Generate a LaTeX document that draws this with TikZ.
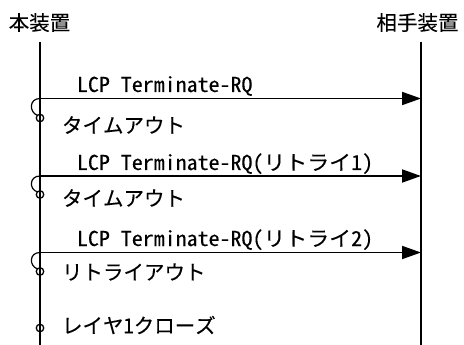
\documentclass[tikz,border=0pt]{standalone}
\usepackage{fontspec}
\setmainfont[FakeBold=0.15]{Noto Sans Mono CJK JP}
\newfontfamily\latfont[FakeStretch=1.07,FakeBold=0.1]{Noto Sans Mono CJK JP}
\usetikzlibrary{arrows.meta}
\begin{document}
\begin{tikzpicture}[x=1pt,y=-1pt,
  every node/.style={inner sep=0pt,outer sep=0pt,font=\fontsize{20.5}{24}\selectfont},
  lifeline/.style={line width=1.8pt},
  msg/.style={line width=1.8pt,-{Triangle[length=19pt,width=13pt]}},
  timer/.style={line width=1.2pt},
  tcirc/.style={draw,line width=1.3pt,circle,minimum size=7.5pt},
  lbl/.style={anchor=base west,font=\fontsize{20.5}{24}\selectfont\latfont},
  note/.style={anchor=west}]
\useasboundingbox (0,0) rectangle (464,345);
\node (hA) at (39.5,22.5) {本装置};
\node (hB) at (417.5,22.5) {相手装置};
\coordinate (aTop) at (40,42); \coordinate (aBot) at (40,345);
\coordinate (bTop) at (421,42); \coordinate (bBot) at (421,345);
\draw[lifeline] (aTop) -- (aBot);
\draw[lifeline] (bTop) -- (bBot);
% messages
\coordinate (a1) at (40,98.5);  \coordinate (b1) at (421,98.5);
\coordinate (a2) at (40,176);   \coordinate (b2) at (421,176);
\coordinate (a3) at (40,252.5); \coordinate (b3) at (421,252.5);
\draw[msg] (a1) -- (b1);
\draw[msg] (a2) -- (b2);
\draw[msg] (a3) -- (b3);
\node[lbl] (m1) at (77,92) {LCP Terminate-RQ};
\node[lbl] (m2) at (77,170) {LCP Terminate-RQ(リトライ1)};
\node[lbl] (m3) at (77,246) {LCP Terminate-RQ(リトライ2)};
% timers
\node[tcirc] (c1) at (40,118) {};
\node[tcirc] (c2) at (40,194.5) {};
\node[tcirc] (c3) at (40,271.5) {};
\node[tcirc] (c4) at (40,328) {};
\draw[timer] (a1) .. controls (29,98.5) and (29,112) .. (c1.135);
\draw[timer] (a2) .. controls (29,176) and (29,189.5) .. (c2.135);
\draw[timer] (a3) .. controls (29,252.5) and (29,266) .. (c3.135);
\node[note] (t1) at (62,125) {タイムアウト};
\node[note] (t2) at (62,198) {タイムアウト};
\node[note] (t3) at (62,272) {リトライアウト};
\node[note] (t4) at (62,325) {レイヤ1クローズ};
\end{tikzpicture}
\end{document}
